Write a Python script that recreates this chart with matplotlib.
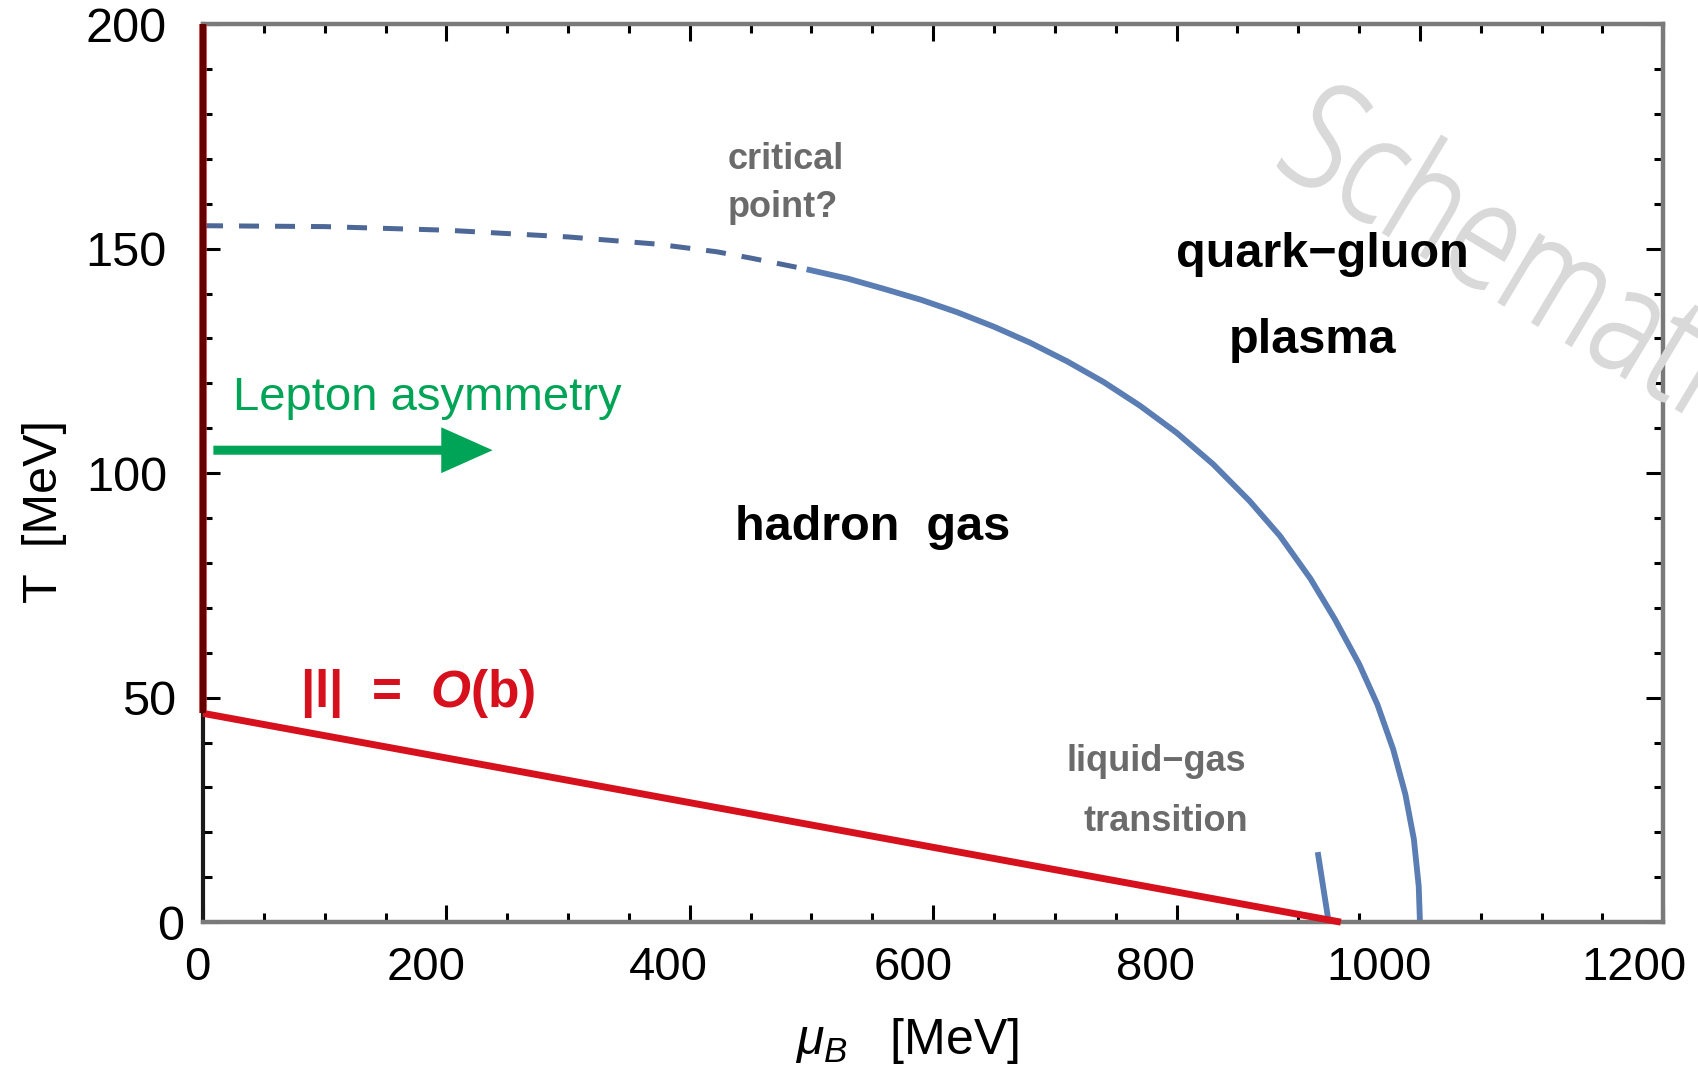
import matplotlib
matplotlib.use("Agg")
import matplotlib.pyplot as plt
from matplotlib.ticker import MultipleLocator
from matplotlib.textpath import TextPath
from matplotlib.patches import PathPatch
from matplotlib.font_manager import FontProperties
from matplotlib.transforms import Affine2D, IdentityTransform, ScaledTranslation

plt.rcParams['font.family'] = ['Liberation Sans', 'DejaVu Sans']
plt.rcParams['mathtext.fontset'] = 'custom'
plt.rcParams['mathtext.rm'] = 'Liberation Sans'
plt.rcParams['mathtext.it'] = 'Liberation Sans:italic'
plt.rcParams['mathtext.bf'] = 'Liberation Sans:bold'
plt.rcParams['mathtext.bfit'] = 'Liberation Sans:italic:bold'

# crossover region (dashed) and first-order transition line (solid)
mu_crossover = [0, 100, 200, 300, 373, 422, 450, 496]
T_crossover = [155.1, 154.9, 154.1, 152.6, 151.0, 149.3, 147.9, 145.4]
mu_transition = [496, 530, 560, 590, 620, 650, 680, 710, 740, 770, 800, 830,
                 860, 885, 910, 930, 950, 965, 978, 988, 995, 999, 1000]
T_transition = [145.4, 143.3, 141.0, 138.6, 135.8, 132.6, 129.0, 124.9, 120.3,
                115.0, 109.0, 102.0, 93.8, 86.0, 76.5, 67.5, 57.5, 48.5, 38.5,
                28.5, 18.5, 8.0, 0.0]

# nuclear liquid-gas transition
mu_liquid_gas = [916, 925]
T_liquid_gas = [15.6, 0]

# lepton asymmetry bound |l| = O(b)
mu_lepton = [0, 935]
T_lepton = [46.5, 0]
mu_axis_line = [0, 0]
T_axis_line = [46.5, 200]

# lepton asymmetry arrow
arrow_mu = [8.5, 238]
arrow_T = 105.1

blue = '#5a7db3'
blue_dark = '#4d6797'
red = '#d6101c'
green = '#00a456'
gray_text = '#6b6b6b'

fig = plt.figure(figsize=(16.99, 10.71), dpi=100)
ax = fig.add_axes([0.1195, 0.139, 0.8595, 0.8385])

ax.plot(mu_crossover, T_crossover, color=blue_dark, lw=3.6, dashes=(4.0, 3.2),
        dash_capstyle='butt')
ax.plot(mu_transition, T_transition, color=blue, lw=4.2, solid_capstyle='butt',
        clip_on=False)
ax.plot(mu_liquid_gas, T_liquid_gas, color=blue, lw=4.2, solid_capstyle='butt',
        clip_on=False)
ax.plot(mu_lepton, T_lepton, color=red, lw=5.0, solid_capstyle='butt',
        clip_on=False, zorder=4)
ax.plot(mu_axis_line, T_axis_line, color='#c83030', lw=5.5, clip_on=False,
        solid_capstyle='butt', zorder=5)
ax.plot(mu_axis_line, T_axis_line, color='#640000', lw=4.3, clip_on=False,
        solid_capstyle='butt', zorder=5)

ax.annotate('', xy=(arrow_mu[1], arrow_T), xytext=(arrow_mu[0], arrow_T),
            arrowprops=dict(arrowstyle='simple,head_length=37,head_width=33,tail_width=6.5',
                            mutation_scale=1, color=green, lw=0,
                            shrinkA=0, shrinkB=0))

ax.text(25, 116.8, 'Lepton asymmetry', color=green, fontsize=34,
        ha='left', va='center')
ax.text(80, 51, r'|l|  =  $\mathbfit{O}$(b)', color=red, fontsize=37,
        fontweight='bold', ha='left', va='center')
ax.text(431, 164.6, 'critical\npoint?', color=gray_text, fontsize=26,
        fontweight='bold', ha='left', va='center', linespacing=1.48)
ax.text(920, 148.6, 'quark\u2212gluon', fontsize=35, fontweight='bold',
        ha='center', va='center')
ax.text(912, 129.5, 'plasma', fontsize=35, fontweight='bold',
        ha='center', va='center')
ax.text(550, 87.8, 'hadron  gas', fontsize=35, fontweight='bold',
        ha='center', va='center')
ax.text(783, 35.7, 'liquid\u2212gas', color=gray_text, fontsize=26,
        fontweight='bold', ha='center', va='center')
ax.text(791, 22.4, 'transition', color=gray_text, fontsize=26,
        fontweight='bold', ha='center', va='center')

ax.set_xlim(0, 1200)
ax.set_ylim(0, 200)
ax.xaxis.set_major_locator(MultipleLocator(200))
ax.xaxis.set_minor_locator(MultipleLocator(50))
ax.yaxis.set_major_locator(MultipleLocator(50))
ax.yaxis.set_minor_locator(MultipleLocator(10))
ax.tick_params(which='both', direction='in', top=True, right=True,
               color='black', width=2.2)
ax.tick_params(which='major', length=12)
ax.tick_params(which='minor', length=6.5)
ax.tick_params(axis='x', which='major', labelsize=34, pad=17)
ax.tick_params(axis='y', which='major', labelsize=35, pad=26)

# nudge tick labels (pixels, keyed by tick value) to where the original had them
x_label_nudge = {0: -6, 200: -20, 400: -21, 600: -20, 800: -21, 1000: -41, 1200: -29}
y_label_nudge = {0: 17, 50: 9}
fig.canvas.draw()
for axis, nudge in [(ax.xaxis, x_label_nudge), (ax.yaxis, y_label_nudge)]:
    for tick in axis.get_major_ticks():
        dx = nudge.get(int(round(tick.get_loc())), 0)
        lab = tick.label1
        lab.set_transform(lab.get_transform()
                          + ScaledTranslation(dx / 100, 0, fig.dpi_scale_trans))

for side in ['top', 'bottom', 'right']:
    ax.spines[side].set_color('#7a7a7a')
    ax.spines[side].set_linewidth(3.2)
ax.spines['left'].set_color('#1a1a1a')
ax.spines['left'].set_linewidth(3.0)

ax.set_xlabel(r'$\mu_B$   [MeV]', fontsize=36)
ax.set_ylabel('T  [MeV]', fontsize=35)
ax.xaxis.set_label_coords(0.482, -0.105)
ax.yaxis.set_label_coords(-0.093, 0.457)

# watermark, condensed light lettering in figure pixels
mark = TextPath((0, 0), 'Schematic', size=148,
                prop=FontProperties(family=['Open Sans', 'DejaVu Sans'], weight='light'))
mark_trf = (Affine2D().scale(0.8, 1.0).rotate_deg(-31).translate(1271, 906)
            + IdentityTransform())
ax.add_patch(PathPatch(mark, transform=mark_trf, facecolor='#d9d9d9',
                       edgecolor='#d9d9d9', lw=1.8, clip_on=False, zorder=2.6))

fig.savefig('out.png', dpi=100)
